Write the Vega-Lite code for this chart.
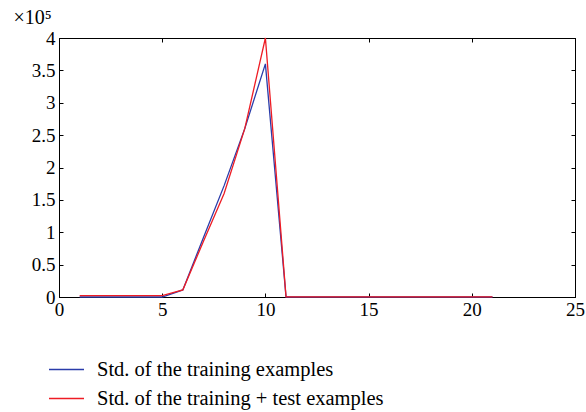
{
  "$schema": "https://vega.github.io/schema/vega-lite/v6.json",
  "width": 516,
  "height": 259,
  "autosize": {"type": "none"},
  "padding": {"left": 59, "top": 38, "right": 11, "bottom": 115},
  "background": "white",
  "config": {
    "font": "Liberation Serif",
    "view": {"stroke": "black", "strokeWidth": 1},
    "axis": {"grid": false, "domainColor": "black", "tickColor": "black", "labelColor": "black", "labelFont": "Liberation Serif", "labelFontSize": 19, "titleFont": "Liberation Serif", "titleColor": "black", "labelFlush": false, "labelOverlap": false}
  },
  "data": {
    "values": [
      {"x": 1, "v": 0, "s": "Std. of the training examples"},
      {"x": 2, "v": 0, "s": "Std. of the training examples"},
      {"x": 3, "v": 0, "s": "Std. of the training examples"},
      {"x": 4, "v": 0, "s": "Std. of the training examples"},
      {"x": 5, "v": 0, "s": "Std. of the training examples"},
      {"x": 6, "v": 0.11, "s": "Std. of the training examples"},
      {"x": 7, "v": 0.92, "s": "Std. of the training examples"},
      {"x": 8, "v": 1.72, "s": "Std. of the training examples"},
      {"x": 9, "v": 2.6, "s": "Std. of the training examples"},
      {"x": 10, "v": 3.6, "s": "Std. of the training examples"},
      {"x": 11, "v": 0, "s": "Std. of the training examples"},
      {"x": 12, "v": 0, "s": "Std. of the training examples"},
      {"x": 13, "v": 0, "s": "Std. of the training examples"},
      {"x": 14, "v": 0, "s": "Std. of the training examples"},
      {"x": 15, "v": 0, "s": "Std. of the training examples"},
      {"x": 16, "v": 0, "s": "Std. of the training examples"},
      {"x": 17, "v": 0, "s": "Std. of the training examples"},
      {"x": 18, "v": 0, "s": "Std. of the training examples"},
      {"x": 19, "v": 0, "s": "Std. of the training examples"},
      {"x": 20, "v": 0, "s": "Std. of the training examples"},
      {"x": 21, "v": 0, "s": "Std. of the training examples"},
      {"x": 1, "v": 0.022, "s": "Std. of the training + test examples"},
      {"x": 2, "v": 0.022, "s": "Std. of the training + test examples"},
      {"x": 3, "v": 0.022, "s": "Std. of the training + test examples"},
      {"x": 4, "v": 0.022, "s": "Std. of the training + test examples"},
      {"x": 5, "v": 0.022, "s": "Std. of the training + test examples"},
      {"x": 6, "v": 0.11, "s": "Std. of the training + test examples"},
      {"x": 7, "v": 0.86, "s": "Std. of the training + test examples"},
      {"x": 8, "v": 1.6, "s": "Std. of the training + test examples"},
      {"x": 9, "v": 2.6, "s": "Std. of the training + test examples"},
      {"x": 10, "v": 4.0, "s": "Std. of the training + test examples"},
      {"x": 11, "v": 0.003, "s": "Std. of the training + test examples"},
      {"x": 12, "v": 0.003, "s": "Std. of the training + test examples"},
      {"x": 13, "v": 0.003, "s": "Std. of the training + test examples"},
      {"x": 14, "v": 0.003, "s": "Std. of the training + test examples"},
      {"x": 15, "v": 0.003, "s": "Std. of the training + test examples"},
      {"x": 16, "v": 0.003, "s": "Std. of the training + test examples"},
      {"x": 17, "v": 0.003, "s": "Std. of the training + test examples"},
      {"x": 18, "v": 0.003, "s": "Std. of the training + test examples"},
      {"x": 19, "v": 0.003, "s": "Std. of the training + test examples"},
      {"x": 20, "v": 0.003, "s": "Std. of the training + test examples"},
      {"x": 21, "v": 0.003, "s": "Std. of the training + test examples"}
    ]
  },
  "layer": [
    {
      "mark": {"type": "line", "strokeWidth": 1.3},
      "encoding": {
        "x": {"field": "x", "type": "quantitative", "scale": {"domain": [0, 25], "nice": false},
          "axis": {"orient": "bottom", "values": [0, 5, 10, 15, 20, 25], "tickSize": -4, "labelPadding": 7, "title": null}},
        "y": {"field": "v", "type": "quantitative", "scale": {"domain": [0, 4], "nice": false},
          "axis": {"orient": "left", "values": [0, 0.5, 1, 1.5, 2, 2.5, 3, 3.5, 4], "format": "~g", "tickSize": -4, "labelPadding": 8,
            "title": "×10⁵", "titleAngle": 0, "titleAlign": "left", "titleBaseline": "alphabetic", "titleX": -46, "titleY": -15, "titleFontSize": 20, "titleFontWeight": "normal"}},
        "color": {"field": "s", "type": "nominal",
          "scale": {"domain": ["Std. of the training examples", "Std. of the training + test examples"], "range": ["#2a3caa", "#ee1c24"]},
          "sort": ["Std. of the training examples", "Std. of the training + test examples"],
          "legend": {"orient": "none", "legendX": -11, "legendY": 313, "title": null, "symbolType": "stroke", "symbolSize": 1225, "symbolStrokeWidth": 1.3, "labelFontSize": 20.5, "labelFont": "Liberation Serif", "labelColor": "black", "labelLimit": 600, "rowPadding": 0, "labelOffset": 12, "symbolOffset": 0}}
      }
    },
    {
      "mark": {"type": "line", "opacity": 0},
      "encoding": {
        "x": {"field": "x", "type": "quantitative", "axis": {"orient": "top", "values": [0, 5, 10, 15, 20, 25], "tickSize": -4, "labels": false, "title": null}},
        "y": {"field": "v", "type": "quantitative", "axis": {"orient": "right", "values": [0, 0.5, 1, 1.5, 2, 2.5, 3, 3.5, 4], "tickSize": -4, "labels": false, "title": null}},
        "detail": {"field": "s"}
      }
    }
  ],
  "resolve": {"axis": {"x": "independent", "y": "independent"}}
}
